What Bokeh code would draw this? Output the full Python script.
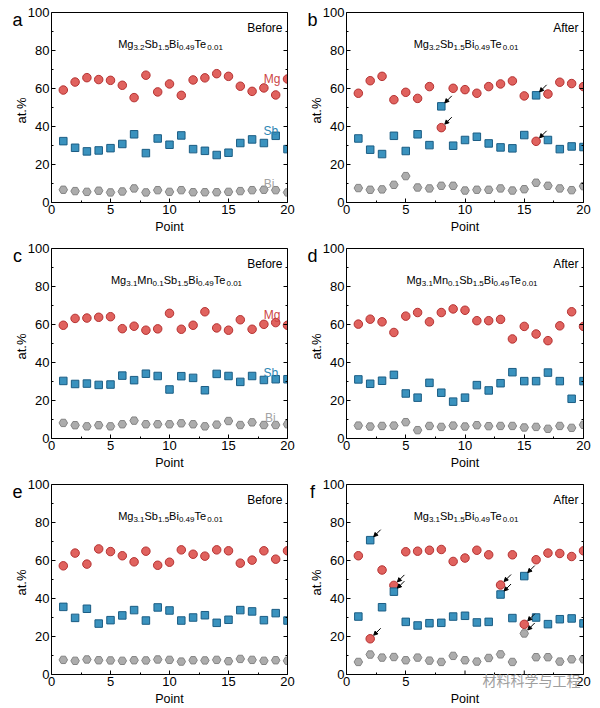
import math
from bokeh.plotting import figure
from bokeh.models import Range1d, FixedTicker, LinearAxis, Label, Arrow, NormalHead, ColumnDataSource
from bokeh.layouts import gridplot
from bokeh.embed import file_html
from bokeh.resources import INLINE

# ---------------- data ----------------
points = list(range(1, 21))

mg_a = [59.2, 63.4, 65.7, 64.7, 64.3, 61.7, 55.2, 67.0, 58.2, 62.4, 56.4, 64.5, 65.6, 67.8, 66.4, 61.2, 58.5, 60.3, 56.6, 65.0]
sb_a = [32.3, 28.8, 26.9, 27.4, 28.6, 30.8, 35.9, 26.0, 33.7, 30.4, 35.3, 28.1, 27.2, 25.0, 26.2, 31.3, 33.2, 31.3, 35.1, 28.1]
bi_a = [6.7, 6.0, 5.6, 6.2, 5.3, 5.8, 7.4, 5.3, 6.5, 5.6, 6.5, 5.4, 5.4, 5.4, 5.6, 6.0, 6.5, 6.7, 6.5, 5.3]

mg_b = [57.5, 64.1, 66.4, 54.1, 58.0, 54.8, 61.0, 39.4, 60.1, 59.4, 57.5, 61.0, 62.4, 64.0, 56.1, 32.2, 57.1, 63.3, 62.6, 61.0]
sb_b = [33.7, 27.8, 25.5, 35.1, 27.1, 35.9, 30.2, 50.6, 29.9, 32.9, 34.6, 31.1, 29.0, 28.5, 35.5, 56.4, 32.9, 28.1, 29.5, 29.2]
bi_b = [7.6, 6.7, 6.9, 9.3, 13.9, 7.9, 7.4, 8.8, 8.8, 6.3, 6.7, 6.7, 7.4, 6.3, 7.0, 10.4, 8.8, 7.4, 6.5, 8.6]

mg_c = [59.6, 63.2, 63.4, 63.8, 64.1, 57.8, 59.1, 57.0, 57.7, 65.9, 57.5, 59.6, 66.7, 58.2, 57.0, 62.5, 57.5, 60.1, 61.0, 59.6]
sb_c = [30.3, 28.7, 28.9, 28.2, 28.4, 33.1, 30.7, 34.1, 32.9, 25.8, 32.8, 31.9, 25.4, 34.0, 32.9, 29.8, 32.9, 30.8, 31.2, 31.2]
bi_c = [8.2, 7.0, 6.4, 7.0, 6.4, 7.5, 9.4, 7.5, 7.5, 7.5, 8.0, 7.5, 6.4, 7.3, 9.2, 7.1, 8.5, 7.1, 7.1, 7.5]

mg_d = [60.2, 62.8, 61.4, 55.8, 64.4, 66.3, 61.4, 66.3, 68.2, 67.5, 62.0, 62.0, 62.7, 52.4, 59.0, 55.0, 51.5, 59.3, 66.7, 59.0]
sb_d = [31.1, 28.8, 30.4, 33.5, 23.7, 21.5, 29.3, 24.1, 19.4, 21.5, 28.1, 25.3, 29.1, 34.9, 30.2, 30.2, 34.7, 30.2, 20.9, 30.2]
bi_d = [6.8, 6.3, 6.6, 6.8, 8.6, 4.4, 6.6, 6.1, 6.8, 6.3, 7.0, 6.5, 6.6, 6.6, 5.8, 6.1, 5.1, 6.6, 5.6, 7.2]

mg_e = [57.2, 63.9, 58.1, 66.1, 64.7, 62.5, 59.3, 64.9, 57.5, 59.1, 65.6, 63.3, 62.3, 65.6, 65.1, 58.6, 60.2, 65.1, 60.7, 65.1]
sb_e = [35.6, 29.8, 34.6, 26.8, 28.6, 31.1, 33.9, 28.4, 35.3, 33.7, 28.4, 30.0, 31.2, 27.2, 28.8, 33.9, 33.2, 28.6, 32.3, 28.4]
bi_e = [7.7, 7.2, 7.9, 7.5, 7.4, 7.2, 7.5, 7.4, 7.9, 7.7, 6.8, 7.5, 7.4, 7.7, 7.0, 8.2, 7.7, 7.2, 7.5, 7.2]

mg_f = [62.5, 18.8, 55.0, 46.9, 64.6, 64.9, 65.4, 65.8, 59.5, 61.3, 65.4, 63.0, 47.1, 63.0, 26.4, 60.4, 63.9, 63.7, 62.1, 65.1]
sb_f = [30.5, 70.7, 35.4, 43.6, 27.7, 25.8, 27.0, 27.2, 30.5, 30.9, 27.4, 27.7, 42.1, 29.7, 51.8, 30.0, 26.5, 29.1, 29.5, 26.9]
bi_f = [6.6, 10.5, 8.9, 9.2, 7.5, 8.9, 7.3, 6.6, 9.8, 7.5, 6.8, 8.7, 10.6, 6.6, 21.6, 9.1, 9.1, 6.8, 8.0, 8.0]

# highlighted (arrowed) points: (element, point number)
arrows_b = [("Sb", 8), ("Mg", 8), ("Sb", 16), ("Mg", 16)]
arrows_f = [("Sb", 2), ("Mg", 2), ("Mg", 4), ("Sb", 4), ("Mg", 13), ("Sb", 13),
            ("Sb", 15), ("Mg", 15), ("Bi", 15)]

# compositions (element, subscript)
formula_ab = [("Mg", "3.2"), ("Sb", "1.5"), ("Bi", "0.49"), ("Te", "0.01")]
formula_cd = [("Mg", "3.1"), ("Mn", "0.1"), ("Sb", "1.5"), ("Bi", "0.49"), ("Te", "0.01")]
formula_ef = [("Mg", "3.1"), ("Sb", "1.5"), ("Bi", "0.49"), ("Te", "0.01")]

# element tag labels (name, x, y)
tag_names = ["Mg", "Sb", "Bi"]
tag_x_a = [19.4, 19.2, 18.9]
tag_y_a = [65.0, 37.8, 10.0]
tag_x_c = [19.4, 19.2, 19.0]
tag_y_c = [64.8, 34.7, 10.8]

x_ticks = [0, 5, 10, 15, 20]
x_minor = [2.5, 7.5, 12.5, 17.5]
y_ticks = [0, 20, 40, 60, 80, 100]
y_minor = [10, 30, 50, 70, 90]
X_MIN, X_MAX, Y_MIN, Y_MAX = 0, 20, 0, 100
hidden_x_labels_f = [10, 15]   # covered by the watermark in panel f

# ---------------- style ----------------
FONT = "Liberation Sans"
COL = {
    "Mg": ("#e0625e", "#b53232", "#cc4545"),
    "Sb": ("#3a92be", "#1b5d84", "#2d86b3"),
    "Bi": ("#acacac", "#848484", "#a3a3a3"),
}
MARK = {"Mg": ("circle", 8.5), "Sb": ("square", 7.5), "Bi": ("hex", 8.5)}

CHAR_W = {"M": 833, "g": 556, "S": 667, "b": 556, "B": 667, "i": 222, "T": 611,
          "e": 556, "n": 556, ".": 278}


def tw(s, size):
    return sum(CHAR_W.get(ch, 556) for ch in s) * size / 1000.0


def style_axis(ax, tk, mn):
    ax.ticker = FixedTicker(ticks=tk, minor_ticks=mn)
    ax.major_tick_in = 4
    ax.major_tick_out = 0
    ax.minor_tick_in = 2
    ax.minor_tick_out = 0
    ax.axis_line_color = "black"
    ax.axis_line_width = 1
    ax.major_tick_line_color = "black"
    ax.minor_tick_line_color = "black"
    ax.major_label_text_font = FONT
    ax.major_label_text_font_size = "13px"
    ax.major_label_text_color = "black"
    ax.major_label_standoff = 2


def make_panel(letter, stage, formula, series, arrows, tags, W, H, L, T, fw, fh,
               formula_shift=0, hidden_x=()):
    # the drawing frame fills the canvas; the axes box sits at (L, T) with size fw x fh
    ux = (X_MAX - X_MIN) / fw
    uy = (Y_MAX - Y_MIN) / fh
    xr = Range1d(X_MIN - L * ux, X_MAX + (W - L - fw) * ux)
    yr = Range1d(Y_MIN - (H - T - fh) * uy, Y_MAX + T * uy)
    p = figure(width=W, height=H, output_backend="svg", toolbar_location=None,
               x_range=xr, y_range=yr, x_axis_location=None, y_axis_location=None,
               min_border=0)
    p.background_fill_color = "white"
    p.border_fill_color = "white"
    p.outline_line_color = None
    p.grid.visible = False

    for name, vals in series.items():
        fill, line, _ = COL[name]
        mk, sz = MARK[name]
        src = ColumnDataSource(dict(x=points, y=vals))
        p.scatter("x", "y", source=src, marker=mk, size=sz, fill_color=fill,
                  line_color=line, line_width=1)

    # markers are cut at the right edge of the axes box
    p.quad(left=[X_MAX], right=[xr.end], bottom=[yr.start], top=[yr.end],
           fill_color="white", line_color=None)
    # inward ticks on the right side of the box
    p.segment(x0=[X_MAX] * len(y_ticks), x1=[X_MAX - 4 * ux] * len(y_ticks),
              y0=y_ticks, y1=y_ticks, line_color="black", line_width=1)
    p.segment(x0=[X_MAX] * len(y_minor), x1=[X_MAX - 2 * ux] * len(y_minor),
              y0=y_minor, y1=y_minor, line_color="black", line_width=1)
    # major x ticks whose labels are hidden
    if hidden_x:
        p.segment(x0=list(hidden_x), x1=list(hidden_x), y0=[Y_MIN] * len(hidden_x),
                  y1=[Y_MIN + 4 * uy] * len(hidden_x), line_color="black", line_width=1)

    left = LinearAxis(fixed_location=X_MIN, bounds=(Y_MIN, Y_MAX))
    style_axis(left, y_ticks, y_minor)
    p.add_layout(left, "left")
    below = LinearAxis(fixed_location=Y_MIN, bounds=(X_MIN, X_MAX))
    style_axis(below, [t for t in x_ticks if t not in hidden_x], x_minor)
    p.add_layout(below, "below")
    right = LinearAxis(fixed_location=X_MAX, bounds=(Y_MIN, Y_MAX))
    style_axis(right, [], [])
    p.add_layout(right, "right")
    top = LinearAxis(fixed_location=Y_MAX, bounds=(X_MIN, X_MAX))
    style_axis(top, [], [])
    p.add_layout(top, "above")

    # axis titles
    p.add_layout(Label(x=(X_MIN + X_MAX) / 2, y=Y_MIN, y_offset=-24, text="Point",
                       text_font=FONT, text_font_size="12.5px", text_align="center",
                       text_baseline="middle", text_color="black"))
    p.add_layout(Label(x=X_MIN, y=(Y_MIN + Y_MAX) / 2, x_offset=-30, y_offset=-3, text="at.%",
                       angle=math.pi / 2, text_font=FONT, text_font_size="13px",
                       text_align="center", text_baseline="middle", text_color="black"))

    # arrows
    if arrows:
        dxt, dyt = 10.5 * ux, 10.5 * uy
        dxh, dyh = 3.5 * ux, 3.5 * uy
        xs, ys, xe, ye = [], [], [], []
        for el, pt in arrows:
            yv = series[el][pt - 1]
            xs.append(pt + dxt)
            ys.append(yv + dyt)
            xe.append(pt + dxh)
            ye.append(yv + dyh)
        asrc = ColumnDataSource(dict(xs=xs, ys=ys, xe=xe, ye=ye))
        p.add_layout(Arrow(x_start="xs", y_start="ys", x_end="xe", y_end="ye", source=asrc,
                           line_color="black", line_width=1,
                           end=NormalHead(size=4, fill_color="black", line_color="black", line_width=1)))

    # panel letter
    p.add_layout(Label(x=X_MIN, y=Y_MAX, x_offset=-34, y_offset=-7, text=letter,
                       text_font=FONT, text_font_size="18px", text_align="center",
                       text_baseline="alphabetic", text_color="black"))
    # stage tag
    p.add_layout(Label(x=X_MAX, y=Y_MAX, x_offset=-5, y_offset=-15, text=stage,
                       text_font=FONT, text_font_size="12px", text_align="right",
                       text_baseline="alphabetic", text_color="black"))
    # formula with subscripts
    main_sz, sub_sz = 11, 8
    total = sum(tw(el, main_sz) + tw(sb, sub_sz) for el, sb in formula)
    cur = -total / 2 + formula_shift
    for el, sb in formula:
        p.add_layout(Label(x=(X_MIN + X_MAX) / 2, y=Y_MAX, x_offset=cur, y_offset=-31, text=el,
                           text_font=FONT, text_font_size=f"{main_sz}px", text_align="left",
                           text_baseline="alphabetic", text_color="black"))
        cur += tw(el, main_sz)
        p.add_layout(Label(x=(X_MIN + X_MAX) / 2, y=Y_MAX, x_offset=cur, y_offset=-35, text=sb,
                           text_font=FONT, text_font_size=f"{sub_sz}px", text_align="left",
                           text_baseline="alphabetic", text_color="black"))
        cur += tw(sb, sub_sz)
    # element tags
    if tags:
        for name, tx, ty in zip(*tags):
            p.add_layout(Label(x=tx, y=ty, text=name, text_font=FONT, text_font_size="12px",
                               text_align="right", text_baseline="alphabetic",
                               text_color=COL[name][2]))
    return p


pa = make_panel("a", "Before", formula_ab, {"Mg": mg_a, "Sb": sb_a, "Bi": bi_a}, None,
                (tag_names, tag_x_a, tag_y_a), 300, 240, 51, 12, 236, 190, 1)
pb = make_panel("b", "After", formula_ab, {"Mg": mg_b, "Sb": sb_b, "Bi": bi_b}, arrows_b,
                None, 300, 240, 46, 12, 237, 190, 1)
pc = make_panel("c", "Before", formula_cd, {"Mg": mg_c, "Sb": sb_c, "Bi": bi_c}, None,
                (tag_names, tag_x_c, tag_y_c), 300, 236, 51, 8, 236, 190, 7)
pd_ = make_panel("d", "After", formula_cd, {"Mg": mg_d, "Sb": sb_d, "Bi": bi_d}, None,
                 None, 300, 236, 46, 8, 237, 190, 7)
pe = make_panel("e", "Before", formula_ef, {"Mg": mg_e, "Sb": sb_e, "Bi": bi_e}, None,
                None, 300, 232, 51, 8, 236, 190, 1)
pf = make_panel("f", "After", formula_ef, {"Mg": mg_f, "Sb": sb_f, "Bi": bi_f}, arrows_f,
                None, 300, 232, 46, 8, 237, 190, 1, hidden_x=hidden_x_labels_f)

# watermark
pf.add_layout(Label(x=X_MAX, y=Y_MIN, x_offset=-3, y_offset=-5,
                    text="材料科学与工程",
                    text_font="Noto Sans CJK SC", text_font_size="14px", text_align="right",
                    text_baseline="middle", text_color="#9e9e9e"))

grid = gridplot([[pa, pb], [pc, pd_], [pe, pf]], toolbar_location=None)

with open("out.html", "w") as f:
    f.write(file_html(grid, INLINE))
